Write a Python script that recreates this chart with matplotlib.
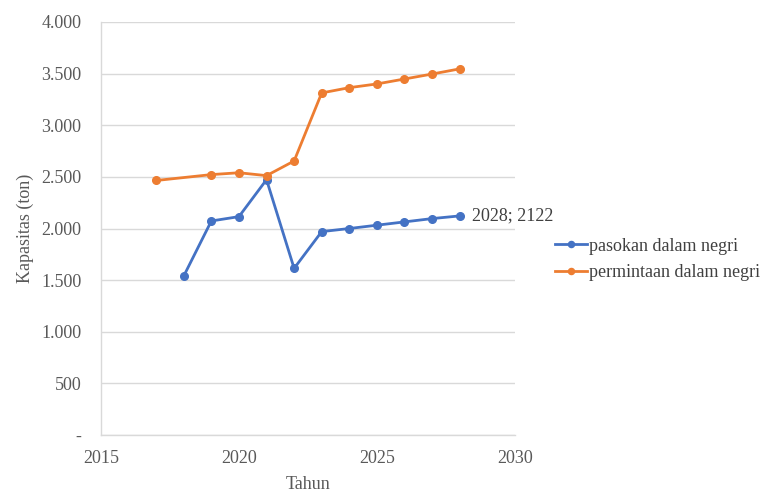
import matplotlib
matplotlib.use("Agg")
import matplotlib.pyplot as plt
from matplotlib.ticker import FuncFormatter

plt.rcParams["font.family"] = ["Liberation Serif", "DejaVu Serif"]

# Supply (pasokan) and demand (permintaan) of domestic capacity, in tons
supply_years = [2018, 2019, 2020, 2021, 2022, 2023, 2024, 2025, 2026, 2027, 2028]
supply_values = [1540, 2073, 2115, 2473, 1614, 1970, 2000, 2032, 2064, 2096, 2122]

demand_years = [2017, 2019, 2020, 2021, 2022, 2023, 2024, 2025, 2026, 2027, 2028]
demand_values = [2465, 2522, 2540, 2512, 2654, 3313, 3364, 3400, 3448, 3496, 3546]

x_ticks = [2015, 2020, 2025, 2030]
y_ticks = [0, 500, 1000, 1500, 2000, 2500, 3000, 3500, 4000]

BLUE = "#4472C4"
ORANGE = "#ED7D31"
GRID = "#D9D9D9"
TEXT = "#595959"

fig = plt.figure(figsize=(7.65, 4.93), dpi=100)
ax = fig.add_axes([0.132, 0.1176, 0.541, 0.8378])

ax.plot(supply_years, supply_values, color=BLUE, lw=2.0, marker="o",
        markersize=5.5, label="pasokan dalam negri", zorder=3)
ax.plot(demand_years, demand_values, color=ORANGE, lw=2.0, marker="o",
        markersize=5.5, label="permintaan dalam negri", zorder=3)

# Data label on the last supply point
ax.annotate(f"{supply_years[-1]}; {supply_values[-1]}",
            xy=(supply_years[-1], supply_values[-1]),
            xytext=(9, 0), textcoords="offset points",
            ha="left", va="center", fontsize=13, color="#404040")

ax.set_xlim(2015, 2030)
ax.set_ylim(0, 4000)
ax.set_xticks(x_ticks)
ax.set_yticks(y_ticks)


def thousands(v, pos):
    if v == 0:
        return "-"
    return f"{int(v):,}".replace(",", ".")


ax.yaxis.set_major_formatter(FuncFormatter(thousands))
ax.tick_params(axis="both", length=0, labelsize=13, colors=TEXT)
ax.tick_params(axis="y", pad=14)
ax.tick_params(axis="x", pad=11)

ax.grid(axis="y", color=GRID, lw=1.0, zorder=0)
ax.set_axisbelow(True)
for side in ("top", "right"):
    ax.spines[side].set_visible(False)
for side in ("left", "bottom"):
    ax.spines[side].set_color(GRID)
    ax.spines[side].set_linewidth(1.0)

ax.set_xlabel("Tahun", fontsize=13, color=TEXT, labelpad=6)
ax.set_ylabel("Kapasitas (ton)", fontsize=13, color=TEXT, labelpad=5)

ax.legend(loc="center left", bbox_to_anchor=(1.058, 0.425), frameon=False,
          fontsize=13, labelcolor="#404040", handlelength=1.75,
          handletextpad=0.1, labelspacing=0.55, markerscale=0.8)

fig.savefig("out.png", dpi=100)
